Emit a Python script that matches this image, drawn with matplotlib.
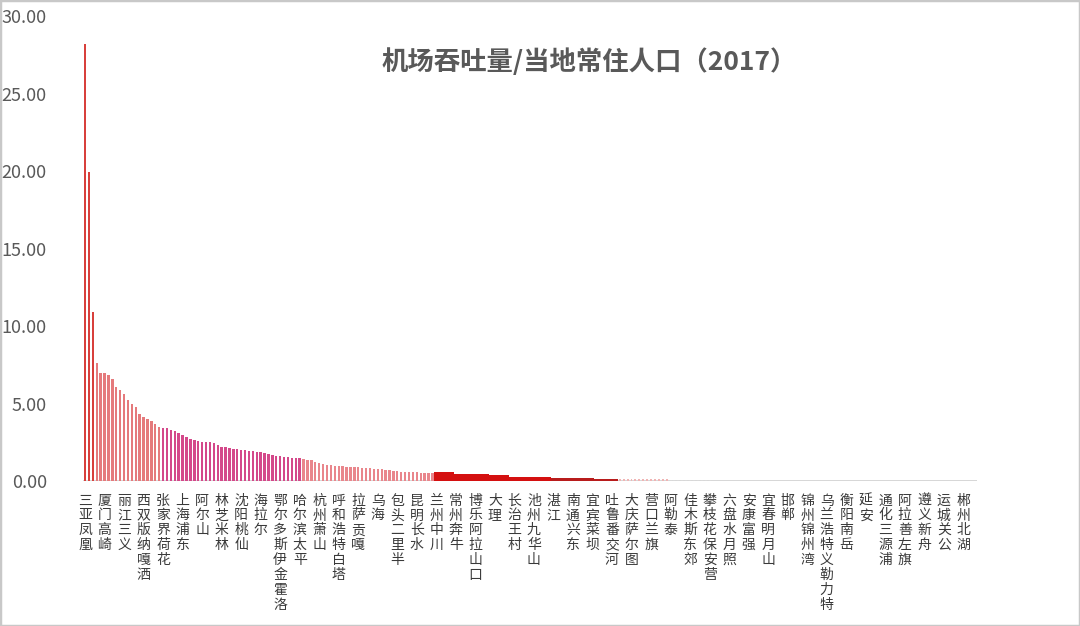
import matplotlib
matplotlib.use('Agg')
import matplotlib.pyplot as plt
from matplotlib.patches import Rectangle
import numpy as np

plt.rcParams['font.family'] = ['Noto Sans CJK SC', 'DejaVu Sans']

# 机场吞吐量 / 当地常住人口 (2017)，按比值从高到低
ratio = [
    28.20, 19.95, 10.90, 7.60, 6.95, 6.95, 6.85, 6.55, 6.05, 5.85,
    5.60, 5.25, 5.00, 4.80, 4.30, 4.15, 4.00, 3.85, 3.70, 3.50,
    3.45, 3.40, 3.30, 3.22, 3.12, 2.97, 2.86, 2.73, 2.65, 2.55,
    2.54, 2.53, 2.50, 2.43, 2.32, 2.22, 2.18, 2.11, 2.05, 2.04,
    2.01, 2.00, 1.96, 1.93, 1.89, 1.85, 1.78, 1.74, 1.68, 1.63,
    1.61, 1.57, 1.53, 1.51, 1.48, 1.46, 1.40, 1.36, 1.35, 1.25,
    1.18, 1.10, 1.04, 1.03, 0.99, 0.98, 0.97, 0.89, 0.88, 0.88,
    0.88, 0.87, 0.85, 0.82, 0.80, 0.78, 0.75, 0.72, 0.68, 0.65,
    0.62, 0.61, 0.60, 0.58, 0.57, 0.55, 0.54, 0.53, 0.52, 0.51,
    0.56, 0.56, 0.55, 0.55, 0.55,
    0.44, 0.44, 0.44, 0.43, 0.43, 0.43, 0.43, 0.43, 0.43, 0.42,
    0.42, 0.42, 0.42, 0.42,
    0.29, 0.29, 0.28, 0.28, 0.28, 0.28, 0.28, 0.28, 0.27, 0.27, 0.27,
    0.18, 0.18, 0.18, 0.17, 0.17, 0.17, 0.17, 0.17, 0.17, 0.17,
    0.17, 0.16, 0.16, 0.16, 0.16, 0.16, 0.16,
    0.13, 0.13, 0.12, 0.12, 0.12, 0.12, 0.12, 0.12, 0.11, 0.11,
    0.11, 0.11, 0.10,
    0.05, 0.05, 0.05, 0.05, 0.04, 0.04, 0.04, 0.04, 0.04, 0.04,
    0.04, 0.03, 0.03, 0.03, 0.03, 0.03, 0.03, 0.03, 0.03, 0.03,
    0.03, 0.03, 0.02, 0.02, 0.02, 0.02, 0.02, 0.02, 0.02, 0.02,
    0.02, 0.02, 0.02, 0.02, 0.02, 0.02, 0.02, 0.02, 0.02, 0.01,
    0.01, 0.01, 0.01, 0.01, 0.01, 0.01, 0.01, 0.01, 0.01, 0.01,
    0.01, 0.01, 0.01, 0.01, 0.01, 0.01, 0.01, 0.01, 0.01, 0.01,
    0.01, 0.01, 0.01, 0.01, 0.01, 0.01, 0.01, 0.01, 0.01, 0.01,
    0.01, 0.01, 0.01, 0.01, 0.01, 0.01, 0.01, 0.01, 0.01,
]

# 每隔5个机场显示一个名称
airport_labels = [
    '三亚凤凰', '厦门高崎', '丽江三义', '西双版纳嘎洒', '张家界荷花',
    '上海浦东', '阿尔山', '林芝米林', '沈阳桃仙', '海拉尔',
    '鄂尔多斯伊金霍洛', '哈尔滨太平', '杭州萧山', '呼和浩特白塔', '拉萨贡嘎',
    '乌海', '包头二里半', '昆明长水', '兰州中川', '常州奔牛',
    '博乐阿拉山口', '大理', '长治王村', '池州九华山', '湛江',
    '南通兴东', '宜宾菜坝', '吐鲁番交河', '大庆萨尔图', '营口兰旗',
    '阿勒泰', '佳木斯东郊', '攀枝花保安营', '六盘水月照', '安康富强',
    '宜春明月山', '邯郸', '锦州锦州湾', '乌兰浩特义勒力特', '衡阳南岳',
    '延安', '通化三源浦', '阿拉善左旗', '遵义新舟', '运城关公',
    '郴州北湖',
]

n = len(ratio)
x = np.arange(n)

# 颜色/宽度按区段
colors = []
widths = []
for i in range(n):
    if i < 3:
        colors.append('#d8403c'); widths.append(0.6)
    elif i < 20:
        colors.append('#e57a7c'); widths.append(0.62)
    elif i < 56:
        colors.append('#d4488a'); widths.append(0.62)
    elif i < 90:
        colors.append('#e9868c'); widths.append(0.6)
    elif i < 120:
        colors.append('#d41010'); widths.append(1.0)
    elif i < 137:
        colors.append('#b81c1c'); widths.append(1.0)
    elif i < 150:
        colors.append('#f0b4b4'); widths.append(0.5)
    else:
        colors.append('#d9d9d9'); widths.append(0.5)

fig = plt.figure(figsize=(10.8, 6.26), dpi=100)
ax = fig.add_axes([0.0769, 0.2316, 0.8277, 0.7428])

ax.axhline(0, color='#d0d0d0', lw=1.2, zorder=0)
ax.bar(x, ratio, width=widths, color=colors, linewidth=0, zorder=2)

ax.set_xlim(-0.5, n - 0.5)
ax.set_ylim(0, 30)
ax.set_yticks([0, 5, 10, 15, 20, 25, 30])
ax.set_yticklabels(['%.2f' % v for v in [0, 5, 10, 15, 20, 25, 30]])
ax.tick_params(axis='y', length=0, pad=26, labelsize=13, labelcolor='#595959')

ax.set_xticks(x[::5])
ax.set_xticklabels(['\n'.join(s) for s in airport_labels], rotation=0,
                   va='top', fontsize=10, color='#3a3a3a', linespacing=1.08)
ax.tick_params(axis='x', length=0, pad=9)

for s in ax.spines.values():
    s.set_visible(False)

fig.text(0.546, 0.901, '机场吞吐量/当地常住人口（2017）', ha='center', va='center',
         fontsize=19, fontweight='bold', color='#595959')

fig.add_artist(Rectangle((0, 0), 1, 1, transform=fig.transFigure, fill=False,
                         edgecolor='#c8c8c8', lw=2.5))

fig.savefig('out.png', dpi=100)
